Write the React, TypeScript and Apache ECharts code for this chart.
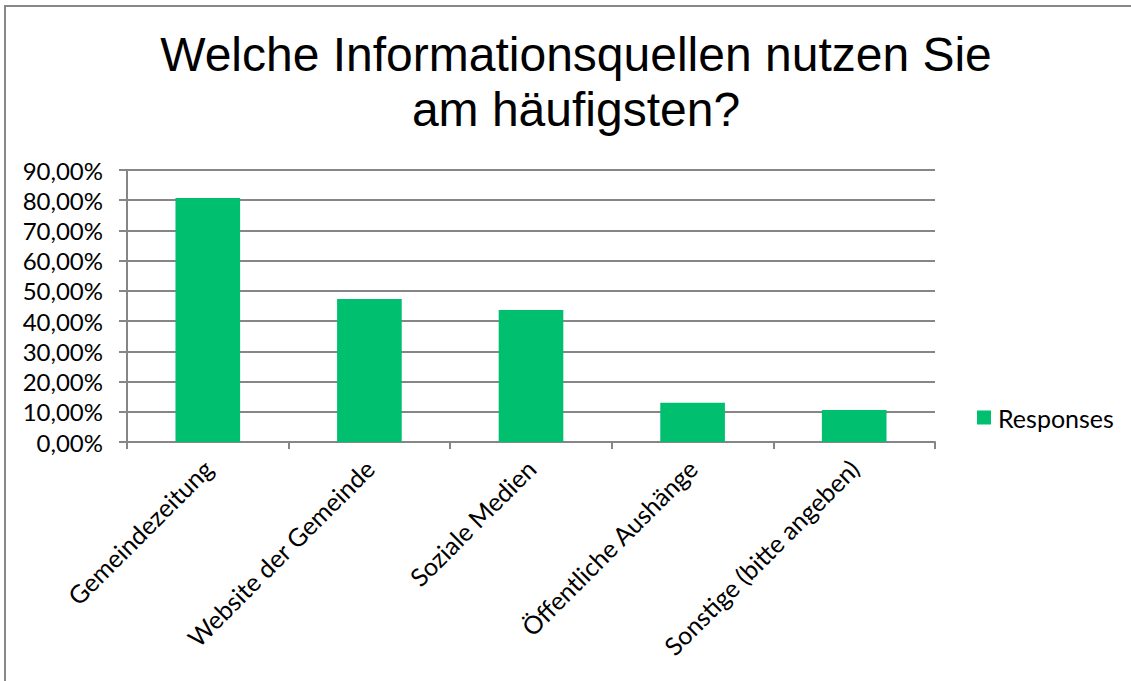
import React, { useEffect, useRef } from "react";
import * as echarts from "echarts";

const categories = [
  "Gemeindezeitung",
  "Website der Gemeinde",
  "Soziale Medien",
  "Öffentliche Aushänge",
  "Sonstige (bitte angeben)",
];
const responses = [80.75, 47.3, 43.7, 12.95, 10.6];
const seriesName = "Responses";
const titleLines = ["Welche Informationsquellen nutzen Sie", "am häufigsten?"];

export default function App() {
  const ref = useRef<HTMLDivElement>(null);
  useEffect(() => {
    document.body.style.margin = "0";
    const chart = echarts.init(ref.current!, null, { renderer: "svg" });
    const font = "Lato, 'Open Sans', sans-serif";
    chart.setOption({
      animation: false,
      backgroundColor: "#ffffff",
      title: {
        text: titleLines.join("\n"),
        left: 571,
        top: 22,
        textAlign: "center",
        textStyle: {
          fontFamily: "'Liberation Sans', Arial, sans-serif",
          fontSize: 48,
          fontWeight: "normal",
          color: "#000",
          lineHeight: 55,
        },
      },
      legend: {
        data: [seriesName],
        left: 972,
        top: 400,
        itemWidth: 14,
        itemHeight: 14,
        itemGap: 8,
        icon: "rect",
        textStyle: { fontFamily: font, fontSize: 25, color: "#000", padding: [0, 0, 0, 2] },
      },
      grid: { left: 127, right: 196, top: 170, bottom: 239 },
      xAxis: {
        type: "category",
        data: categories,
        boundaryGap: true,
        axisLine: { lineStyle: { color: "#868686", width: 2 } },
        axisTick: { show: true, length: 7, lineStyle: { color: "#868686", width: 2 } },
        axisLabel: {
          rotate: 45,
          interval: 0,
          margin: 22,
          fontFamily: font,
          fontSize: 25,
          color: "#000",
        },
      },
      yAxis: {
        type: "value",
        min: 0,
        max: 90,
        interval: 10,
        axisLine: { show: true, lineStyle: { color: "#868686", width: 2 } },
        axisTick: { show: true, length: 8, lineStyle: { color: "#868686", width: 2 } },
        splitLine: { lineStyle: { color: "#868686", width: 2 } },
        axisLabel: {
          margin: 24,
          fontFamily: font,
          fontSize: 24,
          color: "#000",
          formatter: (v: number) => v.toFixed(2).replace(".", ",") + "%",
        },
      },
      series: [
        {
          name: seriesName,
          type: "bar",
          data: responses,
          barWidth: "40%",
          itemStyle: { color: "#00BF6F" },
        },
      ],
      graphic: [
        {
          type: "rect",
          shape: { x: 5, y: 6, width: 1300, height: 800 },
          style: { fill: "none", stroke: "#888888", lineWidth: 2 },
          silent: true,
        },
      ],
    });
    return () => chart.dispose();
  }, []);
  return <div ref={ref} style={{ width: 1131, height: 681 }} />;
}
